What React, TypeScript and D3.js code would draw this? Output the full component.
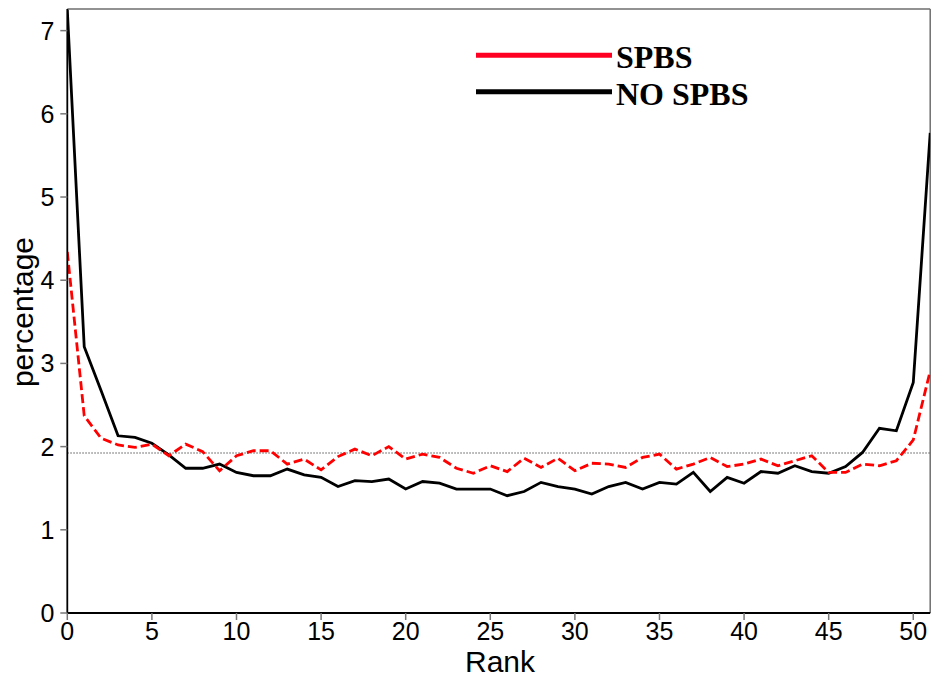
import React from "react";
import * as d3 from "d3";

const ranks: number[] = d3.range(0, 52);
const spbs: number[] = [
  4.34, 2.37, 2.10, 2.02, 1.99, 2.03, 1.89, 2.03, 1.94, 1.71,
  1.89, 1.95, 1.95, 1.79, 1.85, 1.72, 1.88, 1.97, 1.89, 2.00,
  1.85, 1.91, 1.87, 1.74, 1.68, 1.77, 1.70, 1.86, 1.75, 1.86,
  1.71, 1.80, 1.79, 1.75, 1.87, 1.91, 1.73, 1.79, 1.87, 1.76,
  1.79, 1.85, 1.77, 1.83, 1.89, 1.69, 1.69, 1.79, 1.77, 1.83,
  2.08, 2.91,
];
const noSpbs: number[] = [
  7.25, 3.20, 2.67, 2.13, 2.11, 2.04, 1.90, 1.74, 1.74, 1.79,
  1.69, 1.65, 1.65, 1.73, 1.66, 1.63, 1.52, 1.59, 1.58, 1.61,
  1.49, 1.58, 1.56, 1.49, 1.49, 1.49, 1.41, 1.46, 1.57, 1.52,
  1.49, 1.43, 1.52, 1.57, 1.49, 1.57, 1.55, 1.69, 1.46, 1.63,
  1.56, 1.70, 1.68, 1.77, 1.70, 1.68, 1.76, 1.93, 2.22, 2.19,
  2.77, 5.77,
];
const uniformLevel = 100 / 52;
const yTicks: number[] = [0, 1, 2, 3, 4, 5, 6, 7];
const xTicks: number[] = [0, 5, 10, 15, 20, 25, 30, 35, 40, 45, 50];
const seriesNames: string[] = ["SPBS", "NO SPBS"];

const W = 931;
const H = 678;
const left = 67.3;
const right = 930.2;
const top = 9;
const bottom = 613;

export default function App() {
  const x = d3.scaleLinear().domain([0, 51]).range([left, right]);
  const y = d3.scaleLinear().domain([0, 7.26]).range([bottom, top]);
  const line = d3
    .line<number>()
    .x((_, i) => x(ranks[i]))
    .y((d) => y(d));

  const sans = "'Liberation Sans', Arial, sans-serif";
  const serif = "'Liberation Serif', 'Times New Roman', serif";

  return (
    <svg
      width={W}
      height={H}
      style={{ position: "absolute", left: 0, top: 0, background: "#fff" }}
    >
      <defs>
        <clipPath id="plot">
          <rect x={left} y={top} width={right - left} height={bottom - top} />
        </clipPath>
      </defs>
      <rect x={0} y={0} width={W} height={H} fill="#fff" />
      <line x1={left} x2={right} y1={top} y2={top} stroke="#6e6e6e" strokeWidth={1.5} />
      <line x1={right} x2={right} y1={top} y2={bottom} stroke="#6e6e6e" strokeWidth={1.5} />

      <line
        x1={left}
        x2={right}
        y1={y(uniformLevel)}
        y2={y(uniformLevel)}
        stroke="#555"
        strokeWidth={1}
        strokeDasharray="1.5,1.5"
      />

      <g clipPath="url(#plot)">
        <path d={line(noSpbs) || ""} fill="none" stroke="#000" strokeWidth={2.8} />
        <path
          d={line(spbs) || ""}
          fill="none"
          stroke="#ff0000"
          strokeWidth={2.8}
          strokeDasharray="9,4"
        />
      </g>

      <line x1={left} x2={left} y1={top} y2={bottom} stroke="#000" strokeWidth={1.8} />
      <line x1={left} x2={right} y1={bottom} y2={bottom} stroke="#000" strokeWidth={1.8} />

      {yTicks.map((t) => (
        <g key={"y" + t}>
          <line x1={left - 7} x2={left} y1={y(t)} y2={y(t)} stroke="#777" strokeWidth={1.5} />
          <text
            x={left - 13}
            y={y(t)}
            dy="0.36em"
            textAnchor="end"
            fontFamily={sans}
            fontSize={25}
            fill="#000"
          >
            {t}
          </text>
        </g>
      ))}
      {xTicks.map((t) => (
        <g key={"x" + t}>
          <line x1={x(t)} x2={x(t)} y1={bottom} y2={bottom + 7} stroke="#777" strokeWidth={1.5} />
          <text
            x={x(t)}
            y={640}
            textAnchor="middle"
            fontFamily={sans}
            fontSize={25}
            fill="#000"
          >
            {t}
          </text>
        </g>
      ))}

      <text x={500} y={672} textAnchor="middle" fontFamily={sans} fontSize={30} fill="#000">
        Rank
      </text>
      <text
        transform={`translate(33, 312) rotate(-90)`}
        textAnchor="middle"
        fontFamily={sans}
        fontSize={30}
        fill="#000"
      >
        percentage
      </text>

      <line x1={476} x2={612} y1={55.3} y2={55.3} stroke="#ff0022" strokeWidth={5} />
      <text x={616} y={67.5} fontFamily={serif} fontWeight="bold" fontSize={32} fill="#000">
        {seriesNames[0]}
      </text>
      <line x1={476} x2={612} y1={91.7} y2={91.7} stroke="#000" strokeWidth={5} />
      <text x={616} y={105} fontFamily={serif} fontWeight="bold" fontSize={32} fill="#000">
        {seriesNames[1]}
      </text>
    </svg>
  );
}
